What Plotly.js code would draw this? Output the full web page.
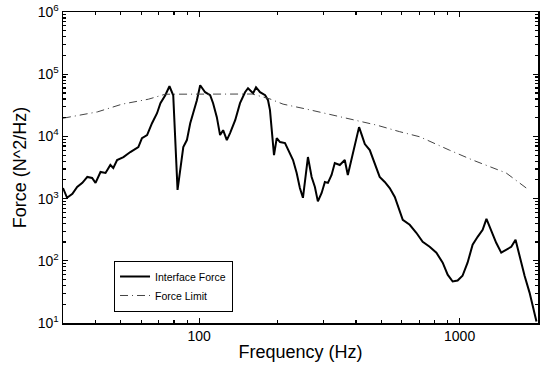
<!DOCTYPE html>
<html>
<head>
<meta charset="utf-8">
<script src="https://cdn.plot.ly/plotly-3.0.1.min.js"></script>
<style>html,body{margin:0;padding:0;background:#fff;}#chart{width:543px;height:372px;}</style>
</head>
<body>
<div id="chart"></div>
<script>
// Interface Force (N^2/Hz) vs frequency (Hz)
const interfaceFreq = [30.0,31.1,32.6,34.0,35.6,37.2,38.8,40.0,41.8,43.7,45.6,46.8,48.4,51.2,54.4,58.4,60.3,63.1,65.9,68.9,71.0,74.1,76.9,78.6,79.5,82.6,86.9,89.7,92.4,94.8,98.0,100.9,105.4,110.2,113.1,116.9,120.3,123.6,127.7,131.4,137.5,143.5,150.0,154.0,161.1,165.3,171.3,179.2,183.8,187.0,190.0,193.8,198.5,204.4,213.6,223.5,229.3,236.8,243.6,250.3,258.5,261.6,270.3,278.2,285.6,295.3,303.9,312.2,322.4,331.7,346.7,362.3,372.2,384.5,401.9,411.1,421.2,432.6,451.9,472.2,493.3,515.9,539.0,563.8,589.0,605.0,643.3,682.0,721.5,767.4,814.4,861.2,899.8,940.4,982.6,1026,1073,1122,1173,1226,1268,1321,1382,1445,1511,1579,1640,1699,1776,1856,1926,1973];
const interfaceForce = [1480,1030,1190,1540,1790,2230,2150,1790,2680,2580,3470,3100,4170,4660,5600,6730,9400,10500,16300,23600,34200,45900,64000,51300,45900,1380,6730,8730,16300,23600,38200,66400,51300,45900,34200,20400,10500,12600,8730,11300,18200,34200,51300,59400,49400,61700,51300,45900,38200,26400,11300,5010,9400,8110,7820,5400,4170,2580,1480,1030,3220,4660,2230,1540,902,1230,1850,1790,2400,3730,3470,4170,2400,4330,8730,14100,10500,7540,6030,3730,2230,1850,1480,1060,659,456,379,282,202,168,135,93.3,59.8,46.5,48.2,57.5,93.3,181,243,315,473,315,195,135,151,168,218,117,57.5,30.8,16.4,10.6];
// Force Limit
const limitFreq = [30,40.7,50.6,63.8,74.1,100,130,160,187,210,259,347,480,589,703,915,1122,1510,1803];
const limitForce = [19600,24800,33000,39600,47700,48000,48000,48000,40000,33000,27400,20600,15200,11900,9860,6000,4170,2580,1480];
const yTickVals = [10,100,1000,10000,100000,1000000];
const yTickText = ['10<sup>1</sup>','10<sup>2</sup>','10<sup>3</sup>','10<sup>4</sup>','10<sup>5</sup>','10<sup>6</sup>'];
const xTickVals = [100,1000];
const xTickText = ['100','1000'];
const xMinorVals = [40,50,60,70,80,90,200,300,400,500,600,700,800,900,2000];
const yMinorVals = [];
[10,100,1000,10000,100000].forEach(d => { for (let k = 2; k <= 9; k++) yMinorVals.push(k*d); });

const traces = [
  {x: interfaceFreq, y: interfaceForce, type:'scatter', mode:'lines', name:'Interface Force',
   line:{color:'#000', width:2}},
  {x: limitFreq, y: limitForce, type:'scatter', mode:'lines', name:'Force Limit',
   line:{color:'#444', width:1, dash:'8px,4px,1px,4px'}}
];
const axisCommon = {showline:true, linecolor:'#000', linewidth:1.5, mirror:'ticks', ticks:'inside',
  ticklen:5, tickcolor:'#000', tickwidth:1.2, showgrid:false, zeroline:false};
const layout = {
  width:543, height:372,
  margin:{l:62.5, r:4.5, t:11.5, b:49},
  paper_bgcolor:'#fff', plot_bgcolor:'#fff',
  font:{family:'Liberation Sans, Arial, sans-serif', color:'#000', size:13},
  showlegend:true,
  legend:{x:0.107, y:0.20, xanchor:'left', yanchor:'top', bgcolor:'rgba(0,0,0,0)',
    bordercolor:'#000', borderwidth:1.2, font:{size:10.5}, tracegroupgap:0, itemwidth:30,
    valign:'middle'},
  xaxis: Object.assign({}, axisCommon, {type:'log', range:[Math.log10(30), Math.log10(2000)],
    tickvals:xTickVals, ticktext:xTickText, tickfont:{size:14},
    minor:{tickvals:xMinorVals, ticks:'inside', ticklen:3, tickcolor:'#000', showgrid:false},
    title:{text:'Frequency (Hz)', font:{size:18}, standoff:2}}),
  yaxis: Object.assign({}, axisCommon, {type:'log', range:[1,6],
    tickvals:yTickVals, ticktext:yTickText, tickfont:{size:14},
    minor:{tickvals:yMinorVals, ticks:'inside', ticklen:3, tickcolor:'#000', showgrid:false},
    title:{text:'Force (N^2/Hz)', font:{size:18}, standoff:6}})
};
Plotly.newPlot('chart', traces, layout, {displayModeBar:false, staticPlot:true});
</script>
</body>
</html>
